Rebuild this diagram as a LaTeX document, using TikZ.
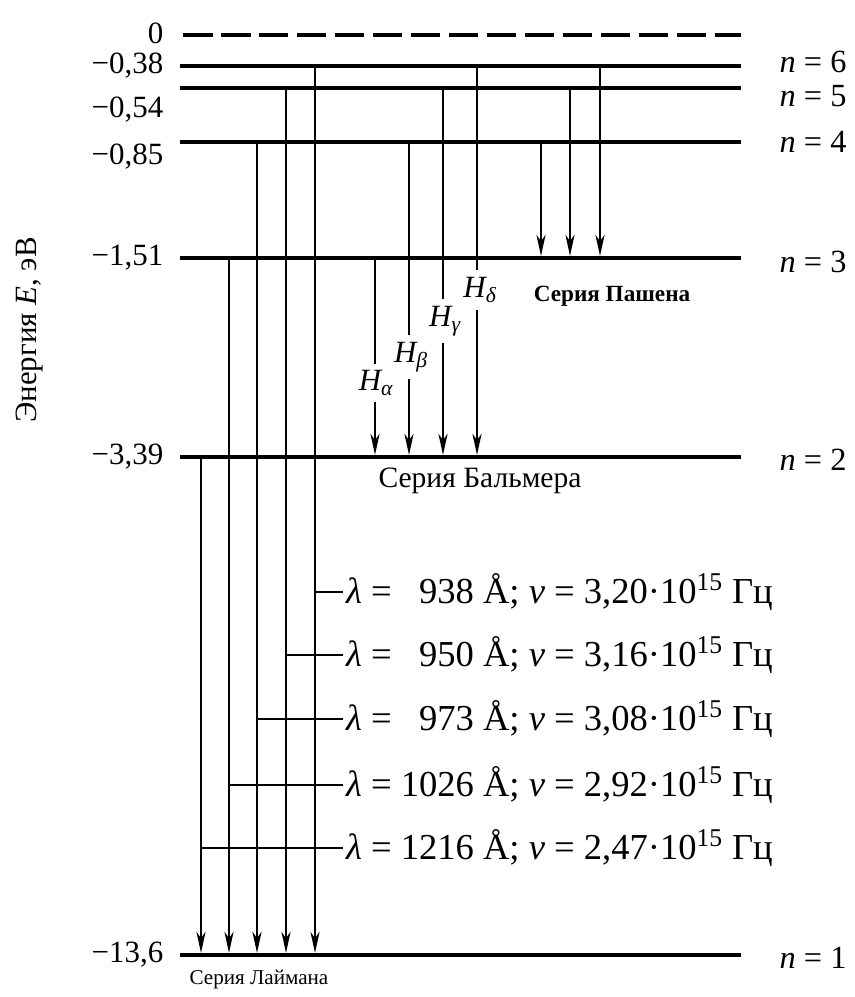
\documentclass[tikz,border=0pt]{standalone}
\usepackage{fontspec}
\setmainfont{Liberation Serif}
\usetikzlibrary{arrows.meta, positioning, calc}

\tikzset{
  level/.style={line width=2.8pt},
  zerolevel/.style={line width=2.8pt, dash pattern=on 21pt off 6pt},
  trans/.style={line width=1.3pt, shorten >=1.5pt, -{Stealth[length=15pt, width=6.5pt, inset=4.5pt]}},
  lamtick/.style={line width=0.9pt},
  evalue/.style={anchor=east, inner sep=1pt, font=\fontsize{22}{24}\selectfont},
  nvalue/.style={anchor=west, inner sep=1pt, font=\fontsize{23}{25}\selectfont},
  hline/.style={fill=white, inner xsep=1pt, inner ysep=5pt, font=\fontsize{22}{24}\selectfont\itshape},
  lamlabel/.style={anchor=west, inner sep=2pt, font=\fontsize{26}{29}\selectfont},
}

\begin{document}
\begin{tikzpicture}[x=0.025cm, y=-0.025cm]
  \useasboundingbox (0,0) rectangle (854,997);

  % energy levels
  \coordinate (E0) at (183,35);
  \coordinate (E6) at (180,66);
  \coordinate (E5) at (180,88);
  \coordinate (E4) at (180,142);
  \coordinate (E3) at (180,258);
  \coordinate (E2) at (180,457);
  \coordinate (E1) at (180,955);
  \draw[zerolevel] (E0) -- (741,35);
  \foreach \k in {6,5,4,3,2,1}
    \draw[level] (E\k) -- +(561,0);

  % energy values
  \node[evalue] (v0) at (165,33) {0};
  \node[evalue] (v6) at (165,66) {−0,38};
  \node[evalue] (v5) at (165,110) {−0,54};
  \node[evalue] (v4) at (165,157) {−0,85};
  \node[evalue] (v3) at (165,258) {−1,51};
  \node[evalue] (v2) at (165,457) {−3,39};
  \node[evalue] (v1) at (165,955) {−13,6};

  % quantum numbers
  \node[nvalue] (n6) at (778,62) {\textit{n} = 6};
  \node[nvalue] (n5) at (778,96) {\textit{n} = 5};
  \node[nvalue] (n4) at (778,142) {\textit{n} = 4};
  \node[nvalue] (n3) at (778,262) {\textit{n} = 3};
  \node[nvalue] (n2) at (778,460) {\textit{n} = 2};
  \node[nvalue] (n1) at (778,958) {\textit{n} = 1};

  \node[rotate=90, font=\fontsize{22}{24}\selectfont] (axis) at (30,330) {Энергия \textit{E}, эВ};

  % Lyman series
  \foreach \x/\k in {201/2, 229/3, 286/5, 315/6}
    \draw[trans] (\x,0 |- E\k) -- (\x,0 |- E1);
  \draw[trans, line width=1.9pt] (257,0 |- E4) -- (257,0 |- E1);

  \node[lamlabel] (lam6) at (343,592) {\textit{λ} = \hphantom{1}938 Å; \textit{ν} = 3,20·10\textsuperscript{15} Гц};
  \node[lamlabel] (lam5) at (343,655) {\textit{λ} = \hphantom{1}950 Å; \textit{ν} = 3,16·10\textsuperscript{15} Гц};
  \node[lamlabel] (lam4) at (343,719) {\textit{λ} = \hphantom{1}973 Å; \textit{ν} = 3,08·10\textsuperscript{15} Гц};
  \node[lamlabel] (lam3) at (343,785) {\textit{λ} = 1026 Å; \textit{ν} = 2,92·10\textsuperscript{15} Гц};
  \node[lamlabel] (lam2) at (343,848) {\textit{λ} = 1216 Å; \textit{ν} = 2,47·10\textsuperscript{15} Гц};
  \draw[lamtick] (315,0 |- lam6.west) -- (lam6.west);
  \draw[lamtick] (286,0 |- lam5.west) -- (lam5.west);
  \draw[lamtick] (257,0 |- lam4.west) -- (lam4.west);
  \draw[lamtick] (229,0 |- lam3.west) -- (lam3.west);
  \draw[lamtick] (201,0 |- lam2.west) -- (lam2.west);
  \node[font=\fontsize{15}{18}\selectfont] (lyman) at (259,980) {Серия Лаймана};

  % Balmer series
  \foreach \x/\k in {375/3, 409/4, 443/5, 477/6}
    \draw[trans] (\x,0 |- E\k) -- (\x,0 |- E2);
  \node[hline] (ha) at (376,383) {H\textsubscript{α}};
  \node[hline] (hb) at (411,357) {H\textsubscript{β}};
  \node[hline] (hg) at (445,321) {H\textsubscript{γ}};
  \node[hline] (hd) at (480,290) {H\textsubscript{δ}};
  \node[font=\fontsize{21}{24}\selectfont] (balmer) at (480,481) {Серия Бальмера};

  % Paschen series
  \foreach \x/\k in {541/4, 570/5, 600/6}
    \draw[trans] (\x,0 |- E\k) -- (\x,0 |- E3);
  \node[font=\fontsize{16.5}{20}\selectfont\bfseries] (paschen) at (612,296) {Серия Пашена};
\end{tikzpicture}
\end{document}
